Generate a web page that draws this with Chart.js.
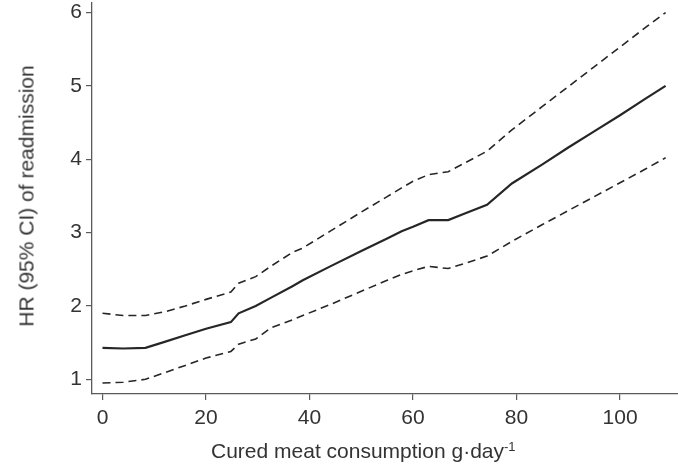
<!DOCTYPE html>
<html>
<head>
<meta charset="utf-8">
<script src="https://cdn.jsdelivr.net/npm/chart.js@4.4.1/dist/chart.umd.min.js"></script>
<style>
  html, body { margin: 0; padding: 0; background: #fff; }
  #wrap { position: relative; width: 678px; height: 464px; overflow: hidden; }
  canvas { position: absolute; left: 0; top: 0; }
  .ttl { position: absolute; font-family: "Liberation Sans", Arial, sans-serif; font-size: 21px; line-height: 21px; color: #333; white-space: nowrap; }
  .ttl sup { font-size: 13px; line-height: 0; vertical-align: 7px; }
  #ytitle { left: 26px; top: 196px; transform: translate(-50%, -50%) rotate(-90deg); }
  #xtitle { left: 211px; top: 440px; }
</style>
</head>
<body>
<div id="wrap">
  <canvas id="c" width="678" height="464"></canvas>
  <div class="ttl" id="ytitle">HR (95% CI) of readmission</div>
  <div class="ttl" id="xtitle">Cured meat consumption g·day<sup>-1</sup></div>
</div>
<script>
// Cured meat consumption (g/day)
const consumption = [0, 4, 8.3, 12, 16, 20, 24.8, 26.3, 29.6, 32.5, 36.7, 38.7, 44, 50, 55, 57.8, 60, 63, 66.8, 70, 74.3, 79.1, 85, 90, 95, 100, 105, 108.8];
// Hazard ratio (solid line)
const hr = [1.43, 1.42, 1.43, 1.51, 1.60, 1.69, 1.78, 1.90, 2.00, 2.11, 2.27, 2.35, 2.54, 2.75, 2.92, 3.02, 3.08, 3.17, 3.17, 3.26, 3.38, 3.67, 3.93, 4.16, 4.38, 4.60, 4.83, 5.00];
// Upper 95% CI (dashed)
const upperCI = [1.90, 1.87, 1.87, 1.92, 2.00, 2.09, 2.19, 2.31, 2.40, 2.54, 2.73, 2.79, 3.02, 3.28, 3.49, 3.61, 3.70, 3.79, 3.83, 3.95, 4.11, 4.40, 4.72, 4.99, 5.26, 5.53, 5.80, 6.00];
// Lower 95% CI (dashed)
const lowerCI = [0.95, 0.96, 1.00, 1.09, 1.19, 1.29, 1.38, 1.48, 1.55, 1.70, 1.81, 1.87, 2.02, 2.20, 2.35, 2.43, 2.48, 2.54, 2.51, 2.58, 2.68, 2.88, 3.11, 3.30, 3.49, 3.68, 3.87, 4.02];
// Tick labels
const xTicks = [0, 20, 40, 60, 80, 100];
const yTicks = [1, 2, 3, 4, 5, 6];

const toPts = (ys) => consumption.map((x, i) => ({ x: x, y: ys[i] }));
const lineColor = '#262626';
const axisColor = '#5a5a5a';
const tickFont = { family: '"Liberation Sans", Arial, sans-serif', size: 21 };

new Chart(document.getElementById('c'), {
  type: 'scatter',
  data: {
    datasets: [
      { label: 'Upper 95% CI', data: toPts(upperCI), showLine: true, borderColor: lineColor, borderWidth: 1.6, borderDash: [8, 5], pointRadius: 0, tension: 0, fill: false },
      { label: 'HR', data: toPts(hr), showLine: true, borderColor: lineColor, borderWidth: 2.2, pointRadius: 0, tension: 0, fill: false },
      { label: 'Lower 95% CI', data: toPts(lowerCI), showLine: true, borderColor: lineColor, borderWidth: 1.6, borderDash: [8, 5], pointRadius: 0, tension: 0, fill: false }
    ]
  },
  options: {
    responsive: false,
    animation: false,
    devicePixelRatio: 1,
    layout: { padding: { left: 0, right: 0, top: 3, bottom: 0 } },
    plugins: { legend: { display: false }, tooltip: { enabled: false } },
    scales: {
      x: {
        type: 'linear',
        min: -2.03,
        max: 111.2,
        afterBuildTicks: (s) => { s.ticks = xTicks.map(v => ({ value: v })); },
        afterFit: (s) => { s.height = 70; s.paddingLeft = 0; s.paddingRight = 0; },
        border: { display: true, color: axisColor, width: 1.3 },
        grid: { drawOnChartArea: false, drawTicks: true, tickLength: 6, color: axisColor, lineWidth: 1.2 },
        ticks: { color: '#333', font: tickFont, padding: 6, maxRotation: 0, autoSkip: false }
      },
      y: {
        type: 'linear',
        min: 0.8,
        max: 6.13,
        afterBuildTicks: (s) => { s.ticks = yTicks.map(v => ({ value: v })); },
        afterFit: (s) => { s.width = 92; s.paddingTop = 0; s.paddingBottom = 0; },
        border: { display: true, color: axisColor, width: 1.3 },
        grid: { drawOnChartArea: false, drawTicks: true, tickLength: 6, color: axisColor, lineWidth: 1.2 },
        ticks: { color: '#333', font: tickFont, padding: 4, autoSkip: false }
      }
    }
  }
});
</script>
</body>
</html>
